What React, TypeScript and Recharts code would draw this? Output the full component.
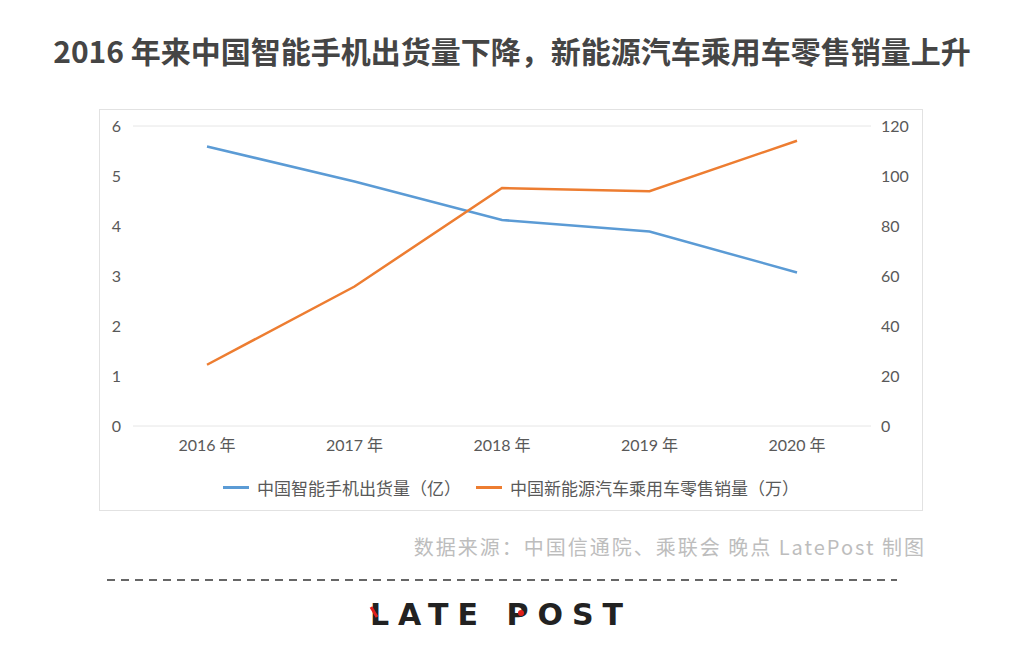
import { CartesianGrid, Legend, Line, LineChart, XAxis, YAxis } from "recharts";

const years = ["2016 年", "2017 年", "2018 年", "2019 年", "2020 年"];
const phoneShipments = [5.59, 4.89, 4.12, 3.89, 3.07];
const nevRetailSales = [24.5, 55.8, 95.2, 93.9, 114.1];
const leftTicks = [0, 1, 2, 3, 4, 5, 6];
const rightTicks = [0, 20, 40, 60, 80, 100, 120];

const phoneName = "中国智能手机出货量（亿）";
const nevName = "中国新能源汽车乘用车零售销量（万）";
const phoneColor = "#5b9bd5";
const nevColor = "#ed7d31";

const data = years.map((year, i) => ({
  year,
  phone: phoneShipments[i],
  nev: nevRetailSales[i],
}));

const legendItems = [
  { name: phoneName, color: phoneColor },
  { name: nevName, color: nevColor },
];

const font = "Lato, 'Noto Sans CJK SC', sans-serif";
const tickStyle = { fontSize: 16, fill: "#595959", fontFamily: font };

function ChartLegend() {
  return (
    <div
      style={{
        display: "flex",
        justifyContent: "center",
        alignItems: "center",
        gap: 15,
        fontSize: 17,
        fontFamily: font,
        color: "#595959",
        height: 30,
      }}
    >
      {legendItems.map((item) => (
        <div key={item.name} style={{ display: "flex", alignItems: "center" }}>
          <span
            style={{
              display: "inline-block",
              width: 26,
              height: 3,
              background: item.color,
              marginRight: 8,
            }}
          />
          <span>{item.name}</span>
        </div>
      ))}
    </div>
  );
}

export default function App() {
  return (
    <div
      style={{
        position: "absolute",
        left: 0,
        top: 0,
        width: 1024,
        height: 665,
        background: "#fff",
        fontFamily: "'Noto Sans CJK SC', sans-serif",
      }}
    >
      <div
        style={{
          position: "absolute",
          left: 0,
          width: 1024,
          top: 29,
          textAlign: "center",
          fontSize: 30,
          fontWeight: 700,
          color: "#454545",
          lineHeight: "42px",
          whiteSpace: "nowrap",
        }}
      >
        2016 年来中国智能手机出货量下降，新能源汽车乘用车零售销量上升
      </div>

      <div
        style={{
          position: "absolute",
          left: 99,
          top: 109,
          width: 824,
          height: 402,
          boxSizing: "border-box",
          border: "1px solid #e2e2e2",
        }}
      >
        <LineChart
          width={822}
          height={400}
          data={data}
          margin={{ top: 16, right: 0, left: 0, bottom: 8 }}
        >
          <CartesianGrid horizontal vertical={false} stroke="#e6e6e6" />
          <XAxis
            dataKey="year"
            axisLine={false}
            tickLine={false}
            tickSize={0}
            tickMargin={14}
            height={46}
            padding={{ left: 74, right: 74 }}
            tick={tickStyle}
          />
          <YAxis
            yAxisId="left"
            domain={[0, 6]}
            ticks={leftTicks}
            axisLine={false}
            tickLine={false}
            tickSize={0}
            tickMargin={12}
            width={33}
            tick={tickStyle}
          />
          <YAxis
            yAxisId="right"
            orientation="right"
            domain={[0, 120]}
            ticks={rightTicks}
            axisLine={false}
            tickLine={false}
            tickSize={0}
            tickMargin={10}
            width={51}
            tick={{ ...tickStyle, textAnchor: "start" }}
          />
          <Legend verticalAlign="bottom" height={30} content={() => <ChartLegend />} />
          <Line
            yAxisId="left"
            dataKey="phone"
            name={phoneName}
            stroke={phoneColor}
            strokeWidth={2.5}
            dot={false}
            isAnimationActive={false}
          />
          <Line
            yAxisId="right"
            dataKey="nev"
            name={nevName}
            stroke={nevColor}
            strokeWidth={2.5}
            dot={false}
            isAnimationActive={false}
          />
        </LineChart>
      </div>

      <div
        style={{
          position: "absolute",
          right: 98,
          top: 533,
          fontSize: 20,
          letterSpacing: 2,
          color: "#bdbdbd",
          lineHeight: "28px",
          whiteSpace: "nowrap",
        }}
      >
        数据来源：中国信通院、乘联会 晚点 LatePost 制图
      </div>

      <svg
        style={{ position: "absolute", left: 0, top: 570 }}
        width={1024}
        height={70}
      >
        <line
          x1={107}
          x2={897}
          y1={10}
          y2={10}
          stroke="#666"
          strokeWidth={2}
          strokeDasharray="8 6"
        />
        <text
          x={370}
          y={55}
          fontSize={30}
          fontWeight={700}
          fill="#222"
          letterSpacing={9}
          fontFamily="'DejaVu Sans', sans-serif"
        >
          LATE POST
        </text>
        <line x1={371} x2={377} y1={37} y2={47} stroke="#e0201b" strokeWidth={3} />
        <circle cx={521} cy={43} r={3} fill="#e0201b" />
      </svg>
    </div>
  );
}
